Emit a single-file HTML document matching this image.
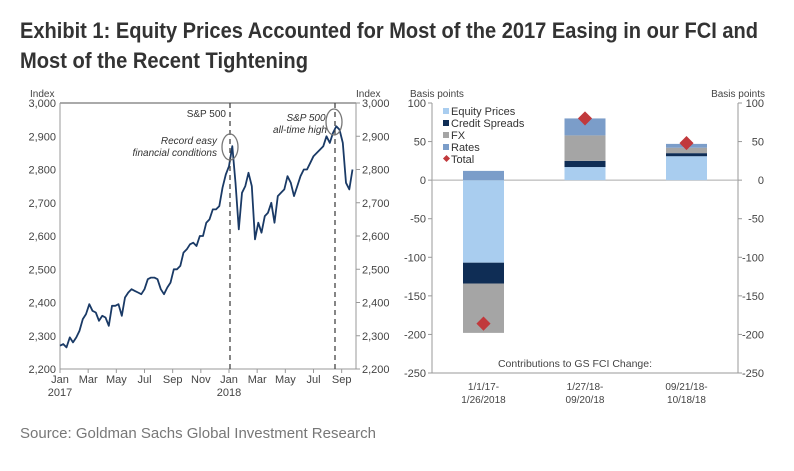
<!DOCTYPE html>
<html><head><meta charset="utf-8"><style>
body{margin:0;background:#fff;width:794px;height:466px;overflow:hidden}
svg text{font-family:"Liberation Sans",sans-serif}
</style></head><body>
<svg id="c" width="794" height="466" viewBox="0 0 794 466">
<text x="20" y="38" font-size="22" font-weight="bold" fill="#333" textLength="738" lengthAdjust="spacingAndGlyphs">Exhibit 1: Equity Prices Accounted for Most of the 2017 Easing in our FCI and</text>
<text x="20" y="68" font-size="22" font-weight="bold" fill="#333" textLength="288" lengthAdjust="spacingAndGlyphs">Most of the Recent Tightening</text>
<text x="20" y="438" font-size="15" fill="#777">Source: Goldman Sachs Global Investment Research</text>
<g id="left"></g>
<g id="right"></g>
</svg>
<script>
const spValues=[2270,2275,2265,2295,2280,2295,2315,2350,2365,2395,2375,2370,2345,2360,2355,2330,2390,2390,2395,2360,2415,2430,2440,2435,2430,2425,2440,2470,2475,2475,2470,2440,2425,2445,2460,2500,2500,2510,2550,2560,2575,2580,2570,2600,2600,2640,2650,2680,2680,2690,2745,2785,2810,2870,2760,2620,2730,2750,2790,2750,2590,2640,2610,2660,2670,2700,2640,2720,2730,2740,2780,2760,2720,2750,2780,2800,2800,2820,2840,2850,2860,2870,2900,2880,2910,2930,2920,2880,2760,2740,2800];
const spYTicks=[2200,2300,2400,2500,2600,2700,2800,2900,3000];
const monthLabels=["Jan","Mar","May","Jul","Sep","Nov","Jan","Mar","May","Jul","Sep"];
const barCategories=[["1/1/17-","1/26/2018"],["1/27/18-","09/20/18"],["09/21/18-","10/18/18"]];
const seriesNames=["Equity Prices","Credit Spreads","FX","Rates"];
const equityVals=[-107,17,31];
const creditVals=[-27,8,4];
const fxVals=[-64,33,7];
const ratesVals=[12,22,5];
const totalVals=[-186,80,48];
const barYTicks=[100,50,0,-50,-100,-150,-200,-250];
const NS="http://www.w3.org/2000/svg";
function mk(p,t,a,txt){const e=document.createElementNS(NS,t);for(const k in a)e.setAttribute(k,a[k]);if(txt!==undefined)e.textContent=txt;p.appendChild(e);return e;}
// left chart
const L=document.getElementById('left');
const lx0=60,lx1=356,ly0=369,ly1=103;
const ys=v=>ly0+(v-2200)*(ly1-ly0)/800;
const xw=i=>lx0+i*3.25;
const xm=m=>lx0+m*169/12;
let e;
e=mk(L,'line',{x1:lx0,y1:ly1,x2:lx1,y2:ly1,stroke:'#555','stroke-width':1});

e=mk(L,'line',{x1:lx0,y1:ly1,x2:lx0,y2:ly0,stroke:'#999'});

e=mk(L,'line',{x1:lx1,y1:ly1,x2:lx1,y2:ly0,stroke:'#999'});

e=mk(L,'line',{x1:lx0,y1:ly0,x2:lx1,y2:ly0,stroke:'#999'});

spYTicks.forEach(v=>{const y=ys(v);const s=v.toLocaleString('en-US');
e=mk(L,'text',{x:lx0-4,y:y+4,'font-size':11,fill:'#444','text-anchor':'end'},s);

e=mk(L,'text',{x:lx1+6,y:y+4,'font-size':11,fill:'#444'},s);

mk(L,'line',{x1:lx1,y1:y,x2:lx1+4,y2:y,stroke:'#999'});});
monthLabels.forEach((m,i)=>{const x=xm(i*2);
mk(L,'line',{x1:x,y1:ly0,x2:x,y2:ly0+4,stroke:'#999'});
e=mk(L,'text',{x:x,y:ly0+14,'font-size':11,fill:'#444','text-anchor':'middle'},m);
});
e=mk(L,'text',{x:lx0,y:ly0+27,'font-size':11,fill:'#444','text-anchor':'middle'},'2017');
e=mk(L,'text',{x:xm(12),y:ly0+27,'font-size':11,fill:'#444','text-anchor':'middle'},'2018');
e=mk(L,'text',{x:30,y:97,'font-size':10,fill:'#444'},'Index');
e=mk(L,'text',{x:356,y:97,'font-size':10,fill:'#444'},'Index');
const pts=spValues.map((v,i)=>xw(i).toFixed(1)+','+ys(v).toFixed(1)).join(' ');
e=mk(L,'polyline',{points:pts,fill:'none',stroke:'#1a3a66','stroke-width':1.8,'stroke-linejoin':'round'});

[230,335].forEach(x=>{e=mk(L,'line',{x1:x,y1:ly1,x2:x,y2:ly0,stroke:'#444','stroke-dasharray':'5,4','stroke-width':1.3});
});
e=mk(L,'ellipse',{cx:230,cy:147,rx:8,ry:13,fill:'none',stroke:'#777','stroke-width':1.3});
e=mk(L,'ellipse',{cx:334,cy:122,rx:8,ry:13,fill:'none',stroke:'#777','stroke-width':1.3});
e=mk(L,'text',{x:226,y:117,'font-size':10,fill:'#333','text-anchor':'end'},'S&P 500');
e=mk(L,'text',{x:217,y:144,'font-size':10,fill:'#333','text-anchor':'end','font-style':'italic'},'Record easy');
e=mk(L,'text',{x:217,y:156,'font-size':10,fill:'#333','text-anchor':'end','font-style':'italic'},'financial conditions');
e=mk(L,'text',{x:306,y:121,'font-size':10,fill:'#333','text-anchor':'middle','font-style':'italic'},'S&P 500');
e=mk(L,'text',{x:300,y:133,'font-size':10,fill:'#333','text-anchor':'middle','font-style':'italic'},'all-time high');
// right chart
const R=document.getElementById('right');
const rx0=432,rx1=738,ry100=103,ry250=373;
const yb=v=>ry100+(100-v)*(ry250-ry100)/350;
e=mk(R,'line',{x1:rx0,y1:ry100,x2:rx0,y2:ry250,stroke:'#999'});
e=mk(R,'line',{x1:rx1,y1:ry100,x2:rx1,y2:ry250,stroke:'#999'});
e=mk(R,'line',{x1:rx0,y1:ry250,x2:rx1,y2:ry250,stroke:'#999'});
e=mk(R,'line',{x1:rx0,y1:yb(0),x2:rx1,y2:yb(0),stroke:'#aaa'});
barYTicks.forEach(v=>{const y=yb(v);
mk(R,'line',{x1:rx0-4,y1:y,x2:rx0,y2:y,stroke:'#999'});mk(R,'line',{x1:rx1,y1:y,x2:rx1+4,y2:y,stroke:'#999'});
e=mk(R,'text',{x:rx0-6,y:y+4,'font-size':11,fill:'#444','text-anchor':'end'},String(v));
e=mk(R,'text',{x:rx1+26,y:y+4,'font-size':11,fill:'#444','text-anchor':'end'},String(v));});
e=mk(R,'text',{x:410,y:97,'font-size':10,fill:'#444'},'Basis points');
e=mk(R,'text',{x:765,y:97,'font-size':10,fill:'#444','text-anchor':'end'},'Basis points');
const colors=['#a9cdef','#0f2d55','#a5a5a5','#7b9dc9'];
const series=[equityVals,creditVals,fxVals,ratesVals];
const bw=41,slot=(rx1-rx0)/3;
barCategories.forEach((c,i)=>{const cx=rx0+slot*(i+0.5)+(i-1)*-0.5;const x=cx-bw/2;let pos=0,neg=0;
series.forEach((s,k)=>{const v=s[i];let a,b;if(v>=0){a=pos;b=pos+v;pos=b;}else{a=neg;b=neg+v;neg=b;}
e=mk(R,'rect',{x:x,y:Math.min(yb(a),yb(b)),width:bw,height:Math.abs(yb(a)-yb(b)),fill:colors[k]});
});
const ty=yb(totalVals[i]);
e=mk(R,'rect',{x:cx-5,y:ty-5,width:10,height:10,fill:'#c1393c',transform:`rotate(45 ${cx} ${ty})`});
c.forEach((t,j)=>{e=mk(R,'text',{x:cx,y:ry250+17+j*13,'font-size':10,fill:'#444','text-anchor':'middle'},t);});});
e=mk(R,'text',{x:575,y:367,'font-size':10.5,fill:'#444','text-anchor':'middle'},'Contributions to GS FCI Change:');
seriesNames.concat(['Total']).forEach((n,k)=>{const y=112+k*12;
if(k<4){e=mk(R,'rect',{x:443,y:y-4,width:6,height:6,fill:colors[k]});}else{e=mk(R,'rect',{x:444,y:y-4,width:5,height:5,fill:'#c1393c',transform:`rotate(45 446.5 ${y-1.5})`});}

e=mk(R,'text',{x:451,y:y+3,'font-size':11,fill:'#333'},n);});
</script>
</body></html>
